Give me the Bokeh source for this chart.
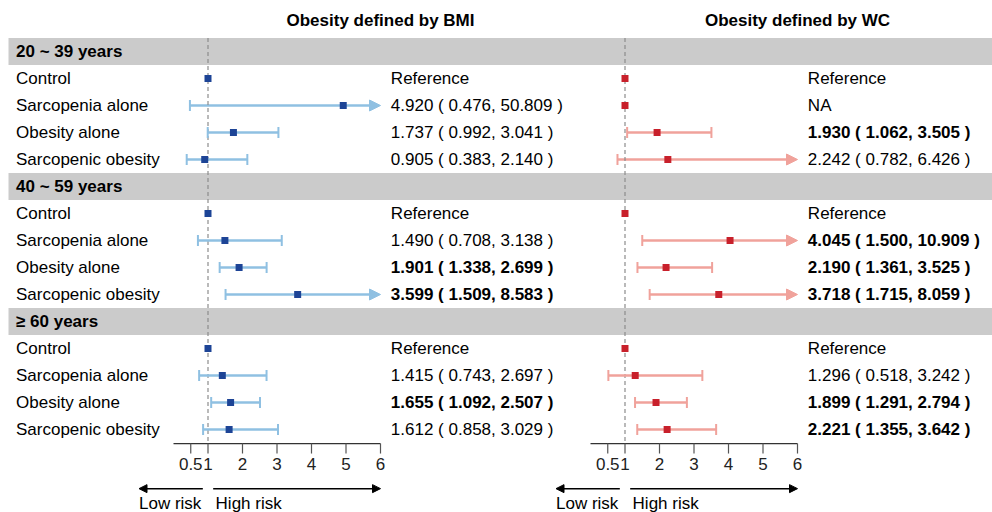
import math
from bokeh.plotting import figure
from bokeh.models import Range1d, ColumnDataSource, Arrow, NormalHead
from bokeh.core.properties import value
from bokeh.embed import file_html
from bokeh.resources import INLINE

# ---------------- data ----------------
groups = ["20 ~ 39 years", "40 ~ 59 years", "≥ 60 years"]
subgroups = ["Control", "Sarcopenia alone", "Obesity alone", "Sarcopenic obesity"]

# status per row: "ref" = reference, "na" = not available, "est" = estimate
bmi_status = ["ref", "est", "est", "est", "ref", "est", "est", "est", "ref", "est", "est", "est"]
bmi_or = [1, 4.920, 1.737, 0.905, 1, 1.490, 1.901, 3.599, 1, 1.415, 1.655, 1.612]
bmi_lo = [1, 0.476, 0.992, 0.383, 1, 0.708, 1.338, 1.509, 1, 0.743, 1.092, 0.858]
bmi_hi = [1, 50.809, 3.041, 2.140, 1, 3.138, 2.699, 8.583, 1, 2.697, 2.507, 3.029]

wc_status = ["ref", "na", "est", "est", "ref", "est", "est", "est", "ref", "est", "est", "est"]
wc_or = [1, 1, 1.930, 2.242, 1, 4.045, 2.190, 3.718, 1, 1.296, 1.899, 2.221]
wc_lo = [1, 1, 1.062, 0.782, 1, 1.500, 1.361, 1.715, 1, 0.518, 1.291, 1.355]
wc_hi = [1, 1, 3.505, 6.426, 1, 10.909, 3.525, 8.059, 1, 3.242, 2.794, 3.642]

tick_values = [0.5, 1, 2, 3, 4, 5, 6]
tick_labels = ["0.5", "1", "2", "3", "4", "5", "6"]
panel_titles = ["Obesity defined by BMI", "Obesity defined by WC"]
risk_labels = ["Low risk", "High risk"]

# ---------------- layout constants ----------------
W, H = 992, 512
PX_PER_UNIT = 34.5
ROW_PX = 27.0
ROW0_PX = 51.0
X_MAX = 6.0
FONT = "Liberation Sans"
FS = "17px"

def xr(zero_px):
    return Range1d(start=-zero_px / PX_PER_UNIT, end=(W - zero_px) / PX_PER_UNIT)

p = figure(width=W, height=H, output_backend="svg", toolbar_location=None,
           x_axis_type=None, y_axis_type=None, min_border=0,
           x_range=xr(173.0),
           y_range=Range1d(start=(H - ROW0_PX) / ROW_PX, end=-ROW0_PX / ROW_PX))
p.extra_x_ranges = {"wc": xr(590.0)}
p.outline_line_color = None
p.grid.visible = False
p.background_fill_color = "white"
p.border_fill_color = "white"

# row positions
hdr_y, row_y, row_lab = [], [], []
k = 0
for g in groups:
    hdr_y.append(k)
    k += 1
    for s in subgroups:
        row_y.append(k)
        row_lab.append(s)
        k += 1
last_row = k - 1
axis_y = last_row + 0.52
tick_end_y = axis_y + 0.37
tick_lab_y = axis_y + 0.74
risk_arrow_y = axis_y + 1.67
risk_text_y = axis_y + 2.21
title_y = -1.15

px = lambda v: (v - 173.0) / PX_PER_UNIT  # pixel -> main x units (layout only)

# grey group bands
p.quad(left=px(8), right=px(W + 5), top=[y - 0.5 for y in hdr_y],
       bottom=[y + 0.5 for y in hdr_y], fill_color="#cbcbcb", line_color=None)

# row labels
p.text(x=px(15.5), y=hdr_y, text=groups, text_font=value(FONT), text_font_size=FS,
       text_font_style="bold", text_baseline="middle", text_align="left", text_color="black")
p.text(x=px(15.5), y=row_y, text=row_lab, text_font=value(FONT), text_font_size=FS,
       text_baseline="middle", text_align="left", text_color="black")


def panel(rn, status, orv, lo, hi, bar_c, pt_c):
    kw = {} if rn is None else {"x_range_name": rn}
    # reference dashed line at 1
    p.segment(x0=[1], x1=[1], y0=[-0.5], y1=[axis_y], line_color="#8c8c8c",
              line_width=1.2, line_dash="4 3", **kw)
    est = [i for i, s in enumerate(status) if s == "est"]
    inside = [i for i in est if hi[i] <= X_MAX]
    beyond = [i for i in est if hi[i] > X_MAX]
    # CI bars
    p.segment(x0=[lo[i] for i in inside], x1=[hi[i] for i in inside],
              y0=[row_y[i] for i in inside], y1=[row_y[i] for i in inside],
              line_color=bar_c, line_width=2.5, **kw)
    src = ColumnDataSource(dict(x0=[lo[i] for i in beyond],
                                x1=[min(hi[i], X_MAX) for i in beyond],
                                y=[row_y[i] for i in beyond]))
    p.add_layout(Arrow(end=NormalHead(size=11, fill_color=bar_c, line_color=bar_c, line_width=1),
                       x_start="x0", y_start="y", x_end="x1", y_end="y", source=src,
                       line_color=bar_c, line_width=2.5, level="underlay", **kw))
    # caps
    p.scatter(x=[lo[i] for i in est], y=[row_y[i] for i in est], marker="dash",
              angle=math.pi / 2, size=11, line_color=bar_c, line_width=2, **kw)
    p.scatter(x=[hi[i] for i in inside], y=[row_y[i] for i in inside], marker="dash",
              angle=math.pi / 2, size=11, line_color=bar_c, line_width=2, **kw)
    # points
    p.scatter(x=orv, y=row_y, marker="square", size=7, fill_color=pt_c, line_color=None,
              level="overlay", **kw)
    # estimate texts
    texts, styles = [], []
    for i, s in enumerate(status):
        if s == "ref":
            texts.append("Reference"); styles.append("normal")
        elif s == "na":
            texts.append("NA"); styles.append("normal")
        else:
            texts.append(f"{orv[i]:.3f} ( {lo[i]:.3f}, {hi[i]:.3f} )")
            styles.append("bold" if (lo[i] > 1 or hi[i] < 1) else "normal")
    tsrc = ColumnDataSource(dict(x=[6.3] * len(texts), y=row_y, t=texts, st=styles))
    p.text(x="x", y="y", text="t", text_font_style="st", source=tsrc, text_font=value(FONT),
           text_font_size=FS, text_baseline="middle", text_align="left", text_color="black", **kw)
    # axis
    p.segment(x0=[0], x1=[X_MAX], y0=[axis_y], y1=[axis_y], line_color="#333333", line_width=1.2, **kw)
    p.segment(x0=tick_values, x1=tick_values, y0=[axis_y] * len(tick_values),
              y1=[tick_end_y] * len(tick_values), line_color="#555555", line_width=1.2, **kw)
    p.text(x=tick_values, y=[tick_lab_y] * len(tick_values), text=tick_labels, text_font=value(FONT),
           text_font_size=FS, text_baseline="middle", text_align="center", text_color="#222222", **kw)
    # risk arrows
    asrc = ColumnDataSource(dict(x0=[0.85, 1.15], x1=[-1.0, X_MAX], y=[risk_arrow_y] * 2))
    p.add_layout(Arrow(end=NormalHead(size=8, fill_color="black", line_color="black"),
                       x_start="x0", y_start="y", x_end="x1", y_end="y", source=asrc,
                       line_color="black", line_width=1.5, **kw))
    p.text(x=[-1.0, 1.22], y=[risk_text_y] * 2, text=risk_labels, text_font=value(FONT),
           text_font_size=FS, text_baseline="middle", text_align="left", text_color="black", **kw)


panel(None, bmi_status, bmi_or, bmi_lo, bmi_hi, "#8fc0e2", "#1d4496")
panel("wc", wc_status, wc_or, wc_lo, wc_hi, "#f0a29b", "#c8202b")

# panel titles
p.text(x=[X_MAX], y=[title_y], text=[panel_titles[0]], text_font=value(FONT), text_font_size=FS,
       text_font_style="bold", text_baseline="middle", text_align="center", text_color="black")
p.text(x=[X_MAX], y=[title_y], text=[panel_titles[1]], text_font=value(FONT), text_font_size=FS,
       text_font_style="bold", text_baseline="middle", text_align="center", text_color="black",
       x_range_name="wc")

open("out.html", "w").write(file_html(p, INLINE))
